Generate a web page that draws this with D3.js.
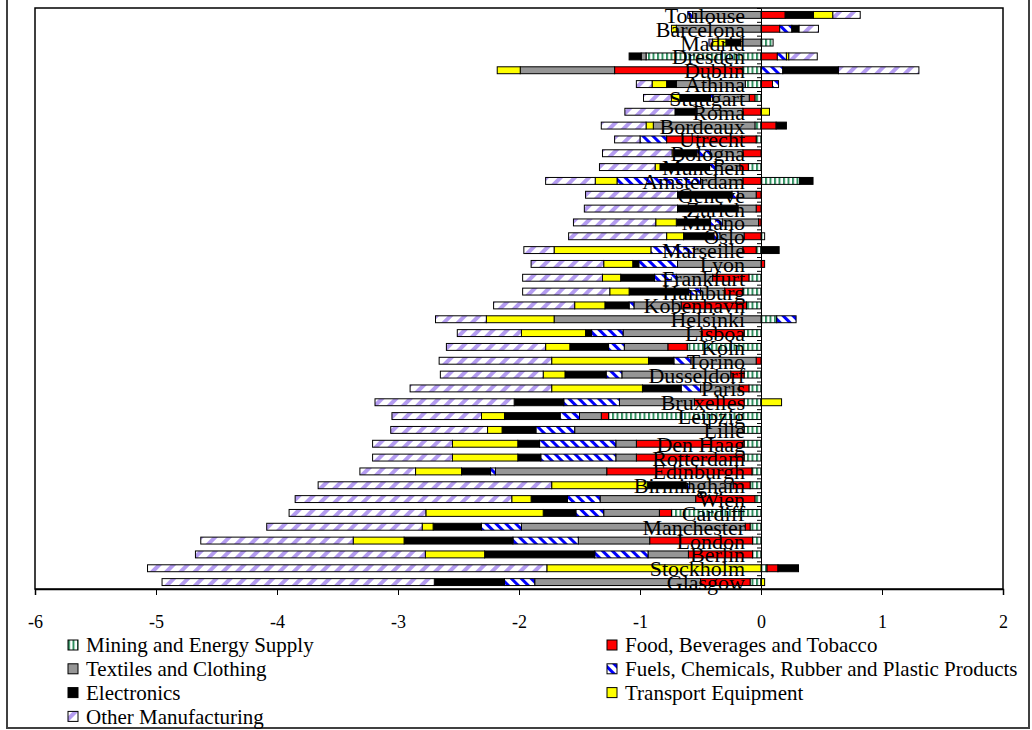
<!DOCTYPE html>
<html>
<head>
<meta charset="utf-8">
<script src="https://cdn.jsdelivr.net/npm/d3@7"></script>
<style>
  body { margin: 0; background: #fff; }
  svg { display: block; font-family: "Liberation Serif", "Times New Roman", serif; }
</style>
</head>
<body>
<svg id="chart" width="1032" height="730"></svg>
<script>
// cities, top to bottom
const cities = ["Toulouse", "Barcelona", "Madrid", "Dresden", "Dublin", "Athina", "Stuttgart",
  "Roma", "Bordeaux", "Utrecht", "Bologna", "Munchen", "Amsterdam", "Geneve", "Zurich",
  "Milano", "Oslo", "Marseille", "Lyon", "Frankfurt", "Hamburg", "Kobenhavn", "Helsinki",
  "Lisboa", "Koln", "Torino", "Dusseldorf", "Paris", "Bruxelles", "Leipzig", "Lille",
  "Den Haag", "Rotterdam", "Edinburgh", "Birmingham", "Wien", "Cardiff", "Manchester",
  "London", "Berlin", "Stockholm", "Glasgow"];

// one value per city for every sector
const mining = [0, 0, 0.10, -0.95, -0.15, -0.13, -0.05,
  0, -0.05, -0.04, 0, -0.105, 0.32, 0, 0,
  0, 0.03, -0.04, 0, -0.10, -0.15, -0.12, 0.13,
  -0.14, -0.61, 0, -0.14, -0.10, -0.14, -1.26, -0.14,
  -0.14, -0.14, -0.075, -0.09, -0.05, -0.74, -0.09,
  -0.07, -0.07, 0.05, -0.09];
const food = [0.20, 0.155, 0, 0.135, -1.06, 0.095, -0.047,
  -0.15, 0.125, -0.74, -0.15, -0.07, -0.15, -0.04, -0.04,
  -0.02, -0.14, -0.11, 0.03, -0.30, -0.15, -0.54, 0,
  -0.35, -0.16, -0.04, -0.11, -0.08, -0.41, -0.06, 0,
  -0.89, -0.89, -1.20, -0.14, -0.49, -0.10, -0.04,
  -0.85, -0.53, 0.09, -0.41];
const textiles = [-0.565, -0.70, -0.17, -0.04, -0.78, -0.57, -0.30,
  -0.38, -0.84, 0, -0.27, -0.20, -0.35, -0.15, -0.15,
  -0.30, -0.20, -0.40, -0.69, -0.30, -0.20, -0.39, -1.71,
  -0.65, -0.36, -0.54, -0.90, -0.32, -0.62, -0.18, -1.40,
  -0.17, -0.17, -0.92, -0.36, -0.79, -0.46, -1.85,
  -0.59, -0.334, 0, -1.37];
const fuels = [-0.04, 0.10, 0, 0.075, 0.18, 0.05, -0.02,
  -0.015, 0, -0.22, -0.11, -0.05, -0.69, -0.05, 0,
  -0.10, -0.05, -0.36, -0.32, -0.18, -0.10, -0.04, 0.16,
  -0.26, -0.13, -0.14, -0.13, -0.16, -0.46, -0.16, -0.32,
  -0.63, -0.62, -0.04, -0.03, -0.27, -0.23, -0.33,
  -0.54, -0.44, 0, -0.25];
const electronics = [0.234, 0.06, -0.12, -0.10, 0.46, -0.08, -0.254,
  -0.166, 0.085, 0, -0.19, -0.41, 0.11, -0.45, -0.50,
  -0.28, -0.25, 0.15, -0.05, -0.28, -0.49, -0.20, 0,
  -0.05, -0.32, -0.21, -0.34, -0.32, -0.41, -0.46, -0.28,
  -0.18, -0.19, -0.24, -0.32, -0.30, -0.27, -0.40,
  -0.90, -0.91, 0.17, -0.58];
const transport = [0.16, -0.04, -0.11, 0.02, -0.19, -0.12, -0.07,
  0.07, -0.06, 0, -0.015, -0.04, -0.18, 0, 0,
  -0.17, -0.14, -0.80, -0.24, -0.15, -0.16, -0.25, -0.56,
  -0.53, -0.20, -0.80, -0.18, -0.75, 0.17, -0.19, -0.12,
  -0.54, -0.54, -0.38, -0.79, -0.16, -0.97, -0.09,
  -0.42, -0.49, -1.77, 0.03];
const other = [0.226, 0.16, -0.03, 0.235, 0.665, -0.13, -0.23,
  -0.414, -0.37, -0.21, -0.575, -0.46, -0.41, -0.76, -0.77,
  -0.68, -0.81, -0.25, -0.60, -0.66, -0.72, -0.67, -0.42,
  -0.53, -0.82, -0.93, -0.85, -1.17, -1.15, -0.74, -0.80,
  -0.66, -0.66, -0.46, -1.93, -1.79, -1.13, -1.285,
  -1.26, -1.90, -3.30, -2.25];

const seriesNames = ["Mining and Energy Supply", "Food, Beverages and Tobacco",
  "Textiles and Clothing", "Fuels, Chemicals, Rubber and Plastic Products",
  "Electronics", "Transport Equipment", "Other Manufacturing"];
const xTicks = [-6, -5, -4, -3, -2, -1, 0, 1, 2];

const seriesValues = [mining, food, textiles, fuels, electronics, transport, other];
const keys = seriesNames;
const fills = ["url(#pMining)", "#ff0000", "#969696", "url(#pFuels)", "#000000", "#ffff00", "url(#pOther)"];

const rows = cities.map((c, i) => {
  const r = { city: c };
  keys.forEach((k, j) => { r[k] = seriesValues[j][i]; });
  return r;
});

const svg = d3.select("#chart");
const plot = { left: 35, right: 1003, top: 8, bottom: 589 };
const serif = "Liberation Serif, Times New Roman, serif";

// patterns
const defs = svg.append("defs");
const pm = defs.append("pattern").attr("id", "pMining").attr("patternUnits", "userSpaceOnUse")
  .attr("width", 4.5).attr("height", 10);
pm.append("rect").attr("width", 4.5).attr("height", 10).attr("fill", "#fff");
pm.append("rect").attr("width", 2).attr("height", 10).attr("fill", "#2f8f5f");

const pf = defs.append("pattern").attr("id", "pFuels").attr("patternUnits", "userSpaceOnUse")
  .attr("width", 7).attr("height", 7).attr("patternTransform", "rotate(-45)");
pf.append("rect").attr("width", 7).attr("height", 7).attr("fill", "#fff");
pf.append("rect").attr("width", 3).attr("height", 7).attr("fill", "#0000ff");

const po = defs.append("pattern").attr("id", "pOther").attr("patternUnits", "userSpaceOnUse")
  .attr("width", 10).attr("height", 10).attr("patternTransform", "rotate(45)");
po.append("rect").attr("width", 10).attr("height", 10).attr("fill", "#fff");
po.append("rect").attr("width", 4).attr("height", 10).attr("fill", "#b49cf0");

// outer frame
svg.append("rect").attr("x", 7).attr("y", -10).attr("width", 1022).attr("height", 738)
  .attr("fill", "none").attr("stroke", "#404040").attr("stroke-width", 2);

const x = d3.scaleLinear().domain([-6, 2]).range([plot.left, plot.right]);
const y = d3.scaleBand().domain(cities).range([plot.top, plot.bottom]).paddingInner(0.5).paddingOuter(0.25);

const stacked = d3.stack().keys(keys).offset(d3.stackOffsetDiverging)(rows);

svg.append("g")
  .selectAll("g")
  .data(stacked)
  .enter().append("g")
  .attr("fill", (d, i) => fills[i])
  .selectAll("rect")
  .data(d => d.filter(p => p[1] - p[0] !== 0))
  .enter().append("rect")
  .attr("x", d => x(Math.min(d[0], d[1])))
  .attr("y", d => y(d.data.city))
  .attr("width", d => Math.abs(x(d[1]) - x(d[0])))
  .attr("height", y.bandwidth())
  .attr("stroke", "#000")
  .attr("stroke-width", 1);

// category axis at zero
const yIdx = d3.scaleLinear().domain([0, cities.length]).range([plot.top, plot.bottom]);
const zeroAxis = svg.append("g")
  .attr("transform", "translate(" + x(0) + ",0)")
  .call(d3.axisLeft(yIdx).tickValues(d3.range(0, cities.length + 1))
    .tickFormat("").tickSize(4).tickSizeOuter(0));
zeroAxis.selectAll("line, path").attr("stroke", "#000");

// city labels
svg.append("g")
  .selectAll("text")
  .data(cities)
  .enter().append("text")
  .attr("x", x(0) - 16)
  .attr("y", d => y(d) + y.bandwidth() / 2)
  .attr("dy", "0.36em")
  .attr("text-anchor", "end")
  .attr("font-size", 22)
  .attr("fill", "#000")
  .text(d => d);

// plot border
svg.append("rect").attr("x", plot.left).attr("y", plot.top)
  .attr("width", plot.right - plot.left).attr("height", plot.bottom - plot.top)
  .attr("fill", "none").attr("stroke", "#000").attr("stroke-width", 1.5);

// value axis
const xAxis = svg.append("g")
  .attr("transform", "translate(0," + plot.bottom + ")")
  .attr("font-family", serif)
  .call(d3.axisBottom(x).tickValues(xTicks).tickFormat(d3.format("d")).tickSize(6).tickPadding(20));
xAxis.attr("font-family", serif);
xAxis.select(".domain").attr("stroke", "#000").attr("stroke-width", 1.5);
xAxis.selectAll(".tick line").attr("stroke", "#000");
xAxis.selectAll("text").attr("font-size", 18).attr("font-family", serif)
  .attr("fill", "#000").text(d => d < 0 ? "-" + Math.abs(d) : d);

// legend
const legend = svg.append("g").attr("font-size", 21)
  .selectAll("g")
  .data(seriesNames)
  .enter().append("g")
  .attr("transform", (d, i) => "translate(" + (i % 2 === 0 ? 68 : 607) + "," + (645 + Math.floor(i / 2) * 23.8) + ")");
legend.append("rect")
  .attr("x", 0).attr("y", -5).attr("width", 10).attr("height", 10)
  .attr("fill", (d, i) => fills[i]).attr("stroke", "#000").attr("stroke-width", 1);
legend.append("text")
  .attr("x", 18).attr("y", 0).attr("dy", "0.35em")
  .attr("fill", "#000")
  .text(d => d);
</script>
</body>
</html>
